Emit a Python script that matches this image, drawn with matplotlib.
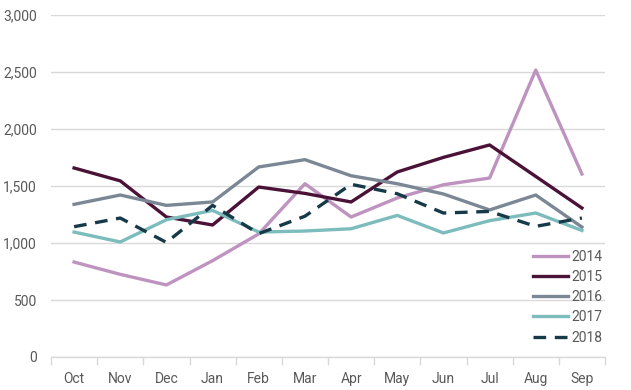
import matplotlib
matplotlib.use("Agg")
import matplotlib.pyplot as plt
from matplotlib import font_manager

months = ["Oct", "Nov", "Dec", "Jan", "Feb", "Mar", "Apr", "May", "Jun", "Jul", "Aug", "Sep"]
s2014 = [833, 725, 632, 845, 1080, 1520, 1228, 1395, 1511, 1570, 2517, 1605]
s2015 = [1658, 1545, 1228, 1158, 1491, 1435, 1360, 1623, 1751, 1860, 1584, 1307]
s2016 = [1339, 1421, 1330, 1360, 1667, 1731, 1590, 1520, 1430, 1290, 1421, 1140]
s2017 = [1096, 1009, 1204, 1286, 1096, 1105, 1125, 1242, 1088, 1196, 1263, 1110]
s2018 = [1143, 1219, 1005, 1330, 1082, 1235, 1515, 1432, 1263, 1277, 1146, 1219]
yticks = [0, 500, 1000, 1500, 2000, 2500, 3000]

names = {f.name for f in font_manager.fontManager.ttflist}
fam = "Liberation Sans Narrow" if "Liberation Sans Narrow" in names else "Roboto"
plt.rcParams["font.family"] = [fam, "DejaVu Sans"]

fig = plt.figure(figsize=(6.31, 3.90), dpi=100)
ax = fig.add_axes([51/631, 1-357/390, (605-51)/631, (357-15)/390])

x = list(range(len(months)))
lw = 2.4
ax.plot(x, s2014, color="#bf93bf", lw=lw, label="2014")
ax.plot(x, s2015, color="#4a1236", lw=lw, label="2015")
ax.plot(x, s2016, color="#7c8796", lw=lw, label="2016")
ax.plot(x, s2017, color="#7dbcbc", lw=lw, label="2017")
ax.plot(x, s2018, color="#163a48", lw=lw, label="2018", dashes=(3.8, 2.6))

ax.set_xlim(-0.5, len(months) - 0.5)
ax.set_ylim(0, 3000)
ax.set_yticks(yticks)
ax.set_yticklabels([f"{v:,}" for v in yticks])
ax.set_xticks(x)
ax.set_xticklabels(months)
ax.set_xticks([i - 0.5 for i in range(len(months) + 1)], minor=True)
ax.tick_params(axis="x", which="major", length=0, pad=11, labelsize=10, labelcolor="#595959")
ax.tick_params(axis="x", which="minor", length=6, color="#d9d9d9", width=1)
ax.tick_params(axis="y", length=0, pad=10, labelsize=10, labelcolor="#595959")
ax.grid(axis="y", color="#d9d9d9", lw=1)
ax.set_axisbelow(True)
for s in ["top", "right", "left"]:
    ax.spines[s].set_visible(False)
ax.spines["bottom"].set_color("#d9d9d9")
ax.spines["bottom"].set_linewidth(1)

leg = ax.legend(loc="lower right", bbox_to_anchor=(1.005, 0.02), frameon=False,
                handlelength=2.5, handletextpad=0.25, labelspacing=0.45,
                fontsize=10, borderaxespad=0.0)
for t in leg.get_texts():
    t.set_color("#595959")

fig.savefig("out.png", dpi=100)
